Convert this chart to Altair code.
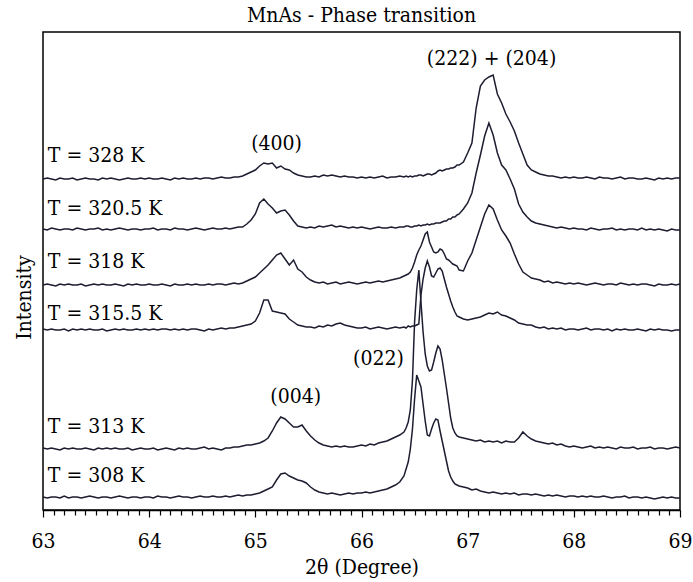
import altair as alt
import pandas as pd

# 2-theta sampling grid (degrees)
TWO_THETA = [
    63.00, 63.04, 63.08, 63.12, 63.16, 63.20, 63.24, 63.28, 63.32, 63.36, 63.40, 63.44, 63.48, 63.52, 63.56, 63.60, 63.64, 63.68, 63.72, 63.76, 63.80, 63.84, 63.88, 63.92, 63.96,
    64.00, 64.04, 64.08, 64.12, 64.16, 64.20, 64.24, 64.28, 64.32, 64.36, 64.40, 64.44, 64.48, 64.52, 64.56, 64.60, 64.64, 64.68, 64.72, 64.76, 64.80, 64.84, 64.88, 64.92, 64.96,
    65.00, 65.04, 65.08, 65.12, 65.16, 65.20, 65.24, 65.28, 65.32, 65.36, 65.40, 65.44, 65.48, 65.52, 65.56, 65.60, 65.64, 65.68, 65.72, 65.76, 65.80, 65.84, 65.88, 65.92, 65.96,
    66.00, 66.04, 66.08, 66.12, 66.16, 66.20, 66.24, 66.28, 66.32, 66.36,
    66.40, 66.42, 66.44, 66.46, 66.48, 66.50, 66.52, 66.54, 66.56, 66.58, 66.60, 66.62, 66.64, 66.66, 66.68, 66.70, 66.72, 66.74, 66.76, 66.78, 66.80, 66.82, 66.84, 66.86, 66.88, 66.90, 66.92,
    66.96, 67.00, 67.04, 67.08, 67.12, 67.16, 67.20, 67.24, 67.28, 67.32, 67.36, 67.40, 67.44, 67.48, 67.52, 67.56, 67.60, 67.64, 67.68, 67.72, 67.76, 67.80, 67.84, 67.88, 67.92, 67.96,
    68.00, 68.04, 68.08, 68.12, 68.16, 68.20, 68.24, 68.28, 68.32, 68.36, 68.40, 68.44, 68.48, 68.52, 68.56, 68.60, 68.64, 68.68, 68.72, 68.76, 68.80, 68.84, 68.88, 68.92, 68.96,
    69.00,
]

# intensities (arbitrary units, each relative to its own baseline)
I_328 = [
    1, 2, 1, 0, 2, 1, 1, 2, 0, 1, 2, 1, 1, 0, 2, 1, 2, 1, 0, 1, 2, 1, 1, 2, 1,
    2, 1, 1, 2, 1, 0, 2, 1, 2, 1, 1, 2, 1, 2, 2, 1, 2, 3, 2, 2, 3, 3, 4, 6, 8,
    10, 14, 17, 16, 17, 12, 14, 11, 10, 7, 5, 4, 3, 3, 4, 3, 5, 4, 5, 4, 3, 4, 3, 3, 2,
    3, 2, 3, 2, 3, 4, 2, 3, 3, 4,
    3, 4, 3, 4, 3, 4, 4, 5, 5, 4, 5, 6, 6, 5, 6, 7, 9, 10, 9, 10, 11, 11, 12, 12, 13, 15, 15,
    18, 27, 37, 72, 94, 100, 103, 105, 86, 77, 66, 58, 49, 37, 26, 15, 10, 8, 6, 5, 4, 4, 3, 2, 3, 2,
    3, 2, 2, 3, 2, 1, 3, 2, 2, 1, 2, 3, 1, 2, 2, 1, 1, 2, 1, 0, 2, 1, 2, 1, 2,
    2,
]
I_320_5 = [
    2, 1, 3, 2, 1, 2, 2, 1, 3, 2, 1, 2, 2, 3, 1, 2, 1, 2, 3, 2, 1, 2, 2, 1, 2,
    2, 3, 1, 2, 2, 1, 3, 2, 2, 1, 2, 3, 2, 1, 2, 3, 2, 2, 3, 2, 3, 4, 4, 7, 11,
    17, 28, 32, 27, 23, 18, 20, 21, 16, 10, 5, 4, 3, 4, 3, 5, 4, 5, 6, 4, 5, 4, 3, 4, 3,
    4, 3, 2, 3, 4, 3, 3, 4, 3, 4,
    4, 5, 5, 4, 4, 5, 5, 6, 5, 6, 6, 7, 6, 7, 7, 8, 8, 8, 9, 10, 10, 12, 12, 14, 14, 16, 17,
    22, 28, 38, 58, 76, 95, 108, 96, 78, 66, 61, 52, 42, 27, 19, 14, 10, 8, 7, 6, 5, 4, 3, 4, 3, 2,
    3, 2, 2, 1, 3, 2, 1, 2, 2, 3, 1, 2, 1, 2, 2, 1, 3, 1, 2, 1, 2, 1, 0, 2, 1,
    1,
]
I_318 = [
    1, 2, 1, 0, 2, 1, 2, 1, 1, 2, 0, 1, 2, 1, 2, 1, 1, 2, 1, 0, 2, 1, 2, 1, 1,
    2, 1, 1, 2, 1, 0, 2, 1, 1, 2, 1, 2, 1, 1, 2, 1, 2, 2, 1, 2, 3, 2, 3, 5, 7,
    9, 13, 17, 21, 26, 31, 33, 27, 21, 26, 17, 14, 9, 6, 4, 3, 4, 2, 3, 4, 2, 3, 4, 3, 2,
    3, 4, 3, 4, 5, 4, 5, 6, 7, 8,
    10, 11, 12, 14, 18, 24, 31, 36, 40, 46, 52, 54, 44, 39, 34, 33, 34, 37, 36, 32, 27, 26, 24, 22, 21, 20, 16,
    15, 25, 33, 46, 59, 72, 81, 77, 66, 56, 50, 43, 32, 22, 14, 11, 8, 7, 6, 4, 5, 3, 4, 3, 2, 3,
    2, 3, 2, 1, 2, 3, 2, 1, 2, 2, 1, 3, 2, 1, 2, 1, 2, 2, 1, 0, 2, 1, 1, 2, 1,
    2,
]
I_315_5 = [
    2, 1, 2, 1, 1, 2, 0, 2, 1, 2, 1, 2, 1, 1, 2, 0, 1, 2, 1, 2, 1, 1, 2, 1, 2,
    1, 2, 1, 2, 2, 1, 2, 1, 2, 1, 2, 2, 1, 0, 2, 1, 2, 3, 2, 3, 3, 4, 5, 6, 7,
    10, 18, 31, 31, 20, 19, 18, 17, 12, 9, 6, 5, 4, 4, 3, 5, 4, 6, 5, 7, 8, 6, 5, 4, 3,
    3, 4, 2, 3, 4, 3, 2, 3, 4, 3,
    4, 3, 5, 4, 5, 5, 6, 7, 36, 52, 63, 70, 64, 55, 54, 58, 62, 63, 60, 52, 44, 37, 30, 24, 19, 15, 14,
    12, 11, 12, 13, 14, 16, 18, 17, 19, 16, 15, 13, 11, 8, 7, 6, 6, 4, 3, 4, 2, 3, 2, 3, 1, 2,
    2, 1, 2, 3, 1, 2, 2, 1, 2, 0, 2, 1, 2, 1, 1, 2, 1, 0, 2, 1, 2, 1, 1, 0, 1,
    1,
]
I_313 = [
    2, 1, 2, 1, 0, 2, 1, 2, 1, 1, 2, 1, 0, 2, 1, 2, 1, 2, 1, 1, 2, 0, 1, 2, 1,
    1, 2, 0, 1, 2, 1, 0, 2, 1, 2, 1, 1, 2, 3, 1, 2, 1, 0, 2, 2, 3, 3, 4, 5, 5,
    6, 7, 9, 12, 19, 27, 33, 31, 27, 23, 23, 25, 19, 14, 10, 7, 5, 4, 3, 4, 3, 4, 3, 3, 4,
    5, 4, 6, 5, 7, 8, 9, 11, 13, 15,
    18, 22, 28, 40, 70, 128, 160, 180, 148, 118, 96, 84, 79, 80, 88, 97, 104, 101, 90, 76, 62, 47, 32, 22, 17, 14, 13,
    12, 11, 10, 9, 10, 8, 9, 8, 9, 7, 9, 8, 8, 12, 18, 14, 11, 9, 8, 7, 6, 7, 5, 6, 4, 3,
    4, 3, 2, 3, 4, 2, 3, 2, 3, 2, 1, 3, 2, 2, 3, 1, 2, 2, 3, 1, 2, 2, 1, 2, 3,
    2,
]
I_308 = [
    2, 1, 2, 2, 1, 3, 1, 2, 2, 1, 2, 3, 2, 1, 2, 2, 1, 2, 3, 2, 1, 2, 2, 1, 2,
    2, 1, 3, 2, 2, 1, 2, 3, 2, 2, 1, 2, 3, 2, 2, 3, 2, 2, 3, 2, 3, 4, 3, 4, 4,
    5, 6, 8, 10, 12, 19, 25, 26, 23, 21, 19, 18, 16, 12, 9, 7, 6, 5, 6, 5, 4, 5, 6, 5, 6,
    6, 7, 6, 7, 8, 9, 10, 12, 14, 17,
    23, 30, 37, 50, 70, 100, 124, 118, 112, 95, 78, 64, 63, 70, 76, 80, 79, 68, 58, 48, 38, 28, 22, 18, 15, 14, 13,
    12, 11, 9, 10, 8, 7, 6, 7, 6, 5, 6, 5, 6, 4, 5, 5, 4, 5, 4, 3, 4, 3, 4, 3, 2, 3,
    3, 2, 3, 2, 3, 2, 2, 3, 2, 1, 2, 2, 3, 1, 2, 2, 1, 2, 1, 0, 1, 2, 1, 2, 1,
    1,
]

SERIES = ["T = 328 K", "T = 320.5 K", "T = 318 K", "T = 315.5 K", "T = 313 K", "T = 308 K"]
INTENSITIES = [I_328, I_320_5, I_318, I_315_5, I_313, I_308]
OFFSETS = [330, 279, 224, 179, 60, 11]          # vertical stacking offsets
LABEL_Y = [348, 295, 242, 190, 77, 28]          # label baselines (same units)
LABEL_X = 63.045

PEAK_TEXT = ["(400)", "(222) + (204)", "(022)", "(004)"]
PEAK_X = [65.20, 67.225, 66.16, 65.38]
PEAK_Y = [360, 445, 145, 107]

X_TICK_LABELS = [63, 64, 65, 66, 67, 68, 69]

for name, vals in zip(SERIES, INTENSITIES):
    if len(vals) != len(TWO_THETA):
        raise ValueError(f"{name}: {len(vals)} values vs {len(TWO_THETA)} angles")

rows = []
for name, vals, off in zip(SERIES, INTENSITIES, OFFSETS):
    for t, v in zip(TWO_THETA, vals):
        rows.append({"theta": t, "y": off + v, "series": name})
curves = pd.DataFrame(rows)
labels = pd.DataFrame({"theta": [LABEL_X] * len(SERIES), "y": LABEL_Y, "text": SERIES})
peaks = pd.DataFrame({"theta": PEAK_X, "y": PEAK_Y, "text": PEAK_TEXT})

FONT = "'DejaVu Serif Condensed', 'DejaVu Serif', serif"
FS = 21
LINE = "#1c1d30"

tick_values = [round(X_TICK_LABELS[0] + k / 10, 1) for k in range(10 * (X_TICK_LABELS[-1] - X_TICK_LABELS[0]) + 1)]

xscale = alt.Scale(domain=[63, 69], nice=False, zero=False)
yscale = alt.Scale(domain=[0, 478], nice=False, zero=False)

xaxis = alt.Axis(
    values=tick_values,
    title="2θ (Degree)",
    labelExpr="datum.value % 1 === 0 ? format(datum.value, 'd') : ''",
    tickSize={"condition": {"test": "datum.value % 1 === 0", "value": 7}, "value": 5},
    tickColor="black", tickWidth=1.2,
    domainColor="black", domainWidth=1.5,
    labelFont=FONT, labelFontSize=FS, labelColor="black", labelPadding=13,
    labelOverlap=False, labelFlush=False,
    titleFont=FONT, titleFontSize=FS, titleFontWeight="normal", titleColor="black",
    titlePadding=5,
    grid=False,
)
yaxis = alt.Axis(
    title="Intensity", labels=False, ticks=False, domain=False, grid=False,
    titleFont=FONT, titleFontSize=FS, titleFontWeight="normal", titleColor="black",
    titleX=-13, titleY=265, titleAngle=270, titleAlign="center", titleBaseline="alphabetic",
)

X = alt.X("theta:Q", scale=xscale, axis=xaxis)
Y = alt.Y("y:Q", scale=yscale, axis=yaxis)

lines = alt.Chart(curves).mark_line(color=LINE, strokeWidth=1.5).encode(
    x=X, y=Y, detail="series:N"
)
temp_text = alt.Chart(labels).mark_text(
    align="left", baseline="alphabetic", font=FONT, fontSize=FS, color="black"
).encode(x=X, y=Y, text="text:N")
peak_text = alt.Chart(peaks).mark_text(
    align="center", baseline="alphabetic", font=FONT, fontSize=FS, color="black"
).encode(x=X, y=Y, text="text:N")

chart = alt.layer(lines, temp_text, peak_text).properties(
    width=637,
    height=478,
    autosize=alt.AutoSizeParams(type="none"),
    padding={"left": 43, "top": 32, "right": 13, "bottom": 72},
    title=alt.Title("MnAs - Phase transition", font=FONT, fontSize=FS,
                    fontWeight="normal", color="black", anchor="middle", offset=6),
).configure_view(stroke="black", strokeWidth=1.5)

chart.save("out.html", embed_options={"renderer": "svg", "actions": False})
